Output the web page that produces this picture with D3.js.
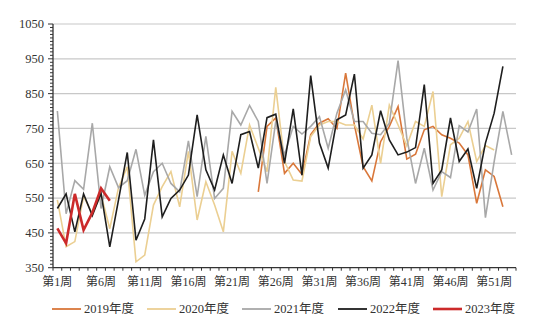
<!DOCTYPE html>
<html><head><meta charset="utf-8">
<script src="https://cdn.jsdelivr.net/npm/d3@7"></script>
<style>
body{margin:0;background:#fff;}
text{font-family:"Liberation Serif","Noto Sans CJK SC",serif;}
</style></head>
<body><svg id="c" width="550" height="334"></svg>
<script>
const weeks = d3.range(1,54);
const tickLabels = ["第1周","第6周","第11周","第16周","第21周","第26周","第31周","第36周","第41周","第46周","第51周"];
const tickWeeks = [1,6,11,16,21,26,31,36,41,46,51];
const yTicks = [350,450,550,650,750,850,950,1050];
const seriesNames = ["2019年度","2020年度","2021年度","2022年度","2023年度"];
const seriesColors = ["#d9773a","#ebcf92","#a8a8a8","#1e1e1e","#cc2a2a"];

const s2019 = [null,null,null,null,null,null,null,null,null,null,null,null,null,null,null,null,null,null,null,null,null,null,null,
  568,756,780,621,650,618,732,765,778,750,909,760,640,599,712,756,813,662,676,746,756,732,722,708,674,535,631,612,525,null];
const s2020 = [545,410,425,555,505,560,462,580,640,367,386,530,583,626,525,684,487,597,530,453,684,621,760,693,626,868,655,602,599,727,
  760,770,770,760,760,720,817,650,817,760,700,770,756,856,554,703,722,770,655,701,688,null,null];
const s2021 = [800,505,600,575,765,520,640,580,600,690,558,626,650,592,568,714,554,727,549,578,799,760,816,770,592,770,674,756,734,756,
  784,693,794,861,770,770,736,732,765,945,722,592,693,573,626,609,758,740,806,494,655,799,674];
const s2022 = [520,562,453,562,500,564,410,545,681,429,490,717,496,549,573,616,789,631,573,674,592,732,741,636,781,791,650,806,616,902,
  708,636,775,789,906,636,674,801,717,674,682,695,876,592,631,780,655,691,578,708,794,928,null];
const s2023 = [463,420,562,458,508,578,542];
const seriesValues = [s2019,s2020,s2021,s2022,s2023];

const svg = d3.select("#c");
const L=53, R=516, T=24, B=267.7;
const x = d3.scaleBand().domain(weeks).range([L,R]);
const cx = w => x(w)+x.bandwidth()/2;
const y = d3.scaleLinear().domain([350,1050]).range([B,T]);

// gridlines
svg.append("g").selectAll("line").data(yTicks.filter(v=>v>350)).join("line")
  .attr("x1",L).attr("x2",R).attr("y1",d=>y(d)).attr("y2",d=>y(d))
  .attr("stroke","#c8c8c8").attr("stroke-width",1.2);

// y axis
const minor = d3.range(350,1051,10);
const yg = svg.append("g");
yg.selectAll("line.m").data(minor).join("line")
  .attr("x1",d=> d%100===50 ? L-5 : L-3).attr("x2",L).attr("y1",d=>y(d)).attr("y2",d=>y(d))
  .attr("stroke","#333").attr("stroke-width",1);
yg.append("line").attr("x1",L).attr("x2",L).attr("y1",T).attr("y2",B).attr("stroke","#333").attr("stroke-width",1.3);
yg.selectAll("text").data(yTicks).join("text")
  .attr("x",L-9).attr("y",d=>y(d)).attr("dy","0.35em").attr("text-anchor","end")
  .attr("font-size",12.5).attr("fill","#333").text(d=>d);

// x axis
const xg = svg.append("g");
xg.append("line").attr("x1",L).attr("x2",R).attr("y1",B).attr("y2",B).attr("stroke","#333").attr("stroke-width",1.3);
const bounds = weeks.map(w=>x(w)).concat([R]);
xg.selectAll("line.t").data(bounds).join("line")
  .attr("x1",d=>d).attr("x2",d=>d).attr("y1",B).attr("y2",B+3).attr("stroke","#333").attr("stroke-width",1);
xg.selectAll("text").data(tickWeeks).join("text")
  .attr("x",d=>cx(d)).attr("y",B+18).attr("text-anchor","middle")
  .attr("font-size",12).attr("fill","#333").text((d,i)=>tickLabels[i]);

// lines
const line = d3.line().defined(d=>d.v!=null).x(d=>cx(d.w)).y(d=>y(d.v));
seriesValues.forEach((vals,i)=>{
  const data = vals.map((v,j)=>({w:weeks[j],v:v}));
  svg.append("path").datum(data).attr("d",line).attr("fill","none")
    .attr("stroke",seriesColors[i]).attr("stroke-width", i===4?2.6:1.6).attr("stroke-linejoin","miter");
});

// legend
const legX = [52,147,242,338,433];
const lg = svg.append("g");
seriesNames.forEach((n,i)=>{
  lg.append("line").attr("x1",legX[i]).attr("x2",legX[i]+29).attr("y1",309).attr("y2",309)
    .attr("stroke",seriesColors[i]).attr("stroke-width", i===4?2.6:1.8);
  lg.append("text").attr("x",legX[i]+32).attr("y",309).attr("dy","0.35em")
    .attr("font-size",12.5).attr("fill","#333").text(n);
});
</script></body></html>
